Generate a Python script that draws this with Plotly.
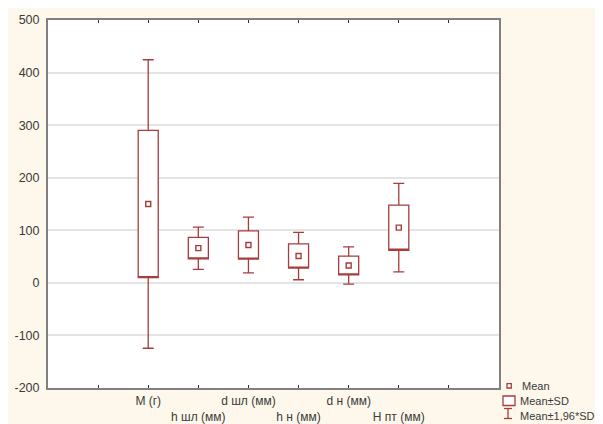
import plotly.graph_objects as go

categories = ["М (г)", "h шл (мм)", "d шл (мм)", "h н (мм)", "d н (мм)", "Н пт (мм)"]
means = [150, 66, 72, 51, 33, 105]
sds = [140, 20.5, 27, 23, 18, 43]
k_ci = 1.96
y_ticks = [-200, -100, 0, 100, 200, 300, 400, 500]
legend_labels = ["Mean", "Mean±SD", "Mean±1,96*SD"]

positions = list(range(1, len(categories) + 1))
sd_low = [m - s for m, s in zip(means, sds)]
sd_high = [m + s for m, s in zip(means, sds)]
ci_low = [m - k_ci * s for m, s in zip(means, sds)]
ci_high = [m + k_ci * s for m, s in zip(means, sds)]

RED = "#a83c3c"
CREAM = "#fdf8eb"
TXT = "#3a3a3a"
FONT = "Arial, Liberation Sans, sans-serif"

OFF = 8  # page body margin
W, H = 595, 416
ML, MR, MT, MB = 40, 104, 12, 36
PW, PH = W - ML - MR, H - MT - MB


def px(x):  # page pixel -> paper
    return (x - OFF - ML) / PW


def py(y):
    return (H - MB - (y - OFF)) / PH


fig = go.Figure()
fig.add_trace(go.Box(
    x=positions, q1=sd_low, median=sd_low, q3=sd_high,
    lowerfence=ci_low, upperfence=ci_high,
    width=0.4, whiskerwidth=0.55, fillcolor="white",
    line=dict(color=RED, width=1.3), boxpoints=False,
    showlegend=False, hoverinfo="skip",
))
fig.add_trace(go.Scatter(
    x=positions, y=means, mode="markers",
    marker=dict(symbol="square-open", size=5, color=RED, line=dict(width=1.4, color=RED)),
    showlegend=False,
))

tickvals = list(range(0, len(categories) + 2))
ticktext = []
for i in tickvals:
    if 1 <= i <= len(categories):
        lab = categories[i - 1]
        ticktext.append(lab if i % 2 == 1 else "<br>" + lab)
    else:
        ticktext.append("")

fig.update_layout(
    width=W, height=H, autosize=False,
    margin=dict(l=ML, r=MR, t=MT, b=MB, pad=0),
    paper_bgcolor=CREAM, plot_bgcolor="white",
    font=dict(family=FONT, size=12, color=TXT),
    showlegend=False,
    xaxis=dict(
        range=[-1, len(categories) + 2], tickmode="array", tickvals=tickvals, ticktext=ticktext,
        tickangle=0, automargin=False,
        ticks="inside", ticklen=3, tickwidth=1, tickcolor="#333333",
        showline=True, mirror="ticks", linecolor="#808080", linewidth=2,
        showgrid=False, zeroline=False, ticklabelstandoff=1,
        tickfont=dict(family=FONT, size=12, color=TXT),
    ),
    yaxis=dict(
        range=[-200, 500], tickmode="array", tickvals=y_ticks,
        ticktext=[str(v) for v in y_ticks], automargin=False,
        ticks="", showline=True, mirror=True, linecolor="#808080", linewidth=2,
        showgrid=True, gridcolor="#e4e4e4", gridwidth=1.5, zeroline=False,
        ticklabelstandoff=4,
        tickfont=dict(family=FONT, size=12.5, color=TXT),
    ),
)

shapes = [
    dict(type="rect", xref="paper", yref="paper", x0=px(507), x1=px(511.3), y0=py(388), y1=py(383.7),
         line=dict(color=RED, width=1.3), fillcolor="white"),
    dict(type="rect", xref="paper", yref="paper", x0=px(503), x1=px(515), y0=py(405.5), y1=py(396),
         line=dict(color=RED, width=1.3), fillcolor="white"),
    dict(type="line", xref="paper", yref="paper", x0=px(508), x1=px(508), y0=py(418.5), y1=py(408.5),
         line=dict(color=RED, width=1.3)),
    dict(type="line", xref="paper", yref="paper", x0=px(504), x1=px(512), y0=py(408.5), y1=py(408.5),
         line=dict(color=RED, width=1.3)),
    dict(type="line", xref="paper", yref="paper", x0=px(504), x1=px(512), y0=py(418.5), y1=py(418.5),
         line=dict(color=RED, width=1.3)),
]
fig.update_layout(shapes=shapes)

for lab, xs, yc in zip(legend_labels, [520, 518, 518], [386, 401, 416]):
    fig.add_annotation(
        xref="paper", yref="paper", x=px(xs), y=py(yc), text=lab, showarrow=False,
        xanchor="left", yanchor="middle", font=dict(family=FONT, size=11, color=TXT),
    )

fig.write_html("out.html")
